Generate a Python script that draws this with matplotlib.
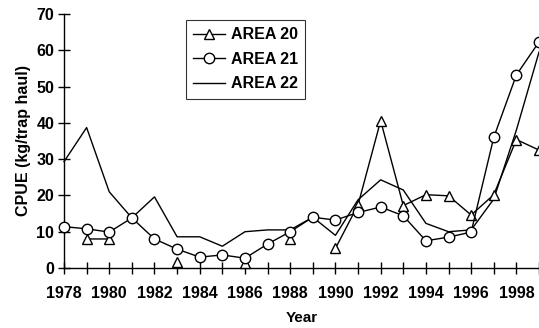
import numpy as np
import matplotlib
matplotlib.use("Agg")
import matplotlib.pyplot as plt

years = list(range(1978, 2000))
nan = np.nan
area20 = [nan, 8.0, 8.0, nan, nan, 1.6, nan, nan, 1.5, nan, 8.0, nan,
          5.4, 17.4, 40.6, 17.2, 20.2, 19.9, 14.6, 20.2, 35.4, 32.5]
area21 = [11.4, 10.8, 9.9, 13.8, 8.0, 5.2, 3.0, 3.6, 2.7, 6.6, 10.0, 14.0,
          13.2, 15.3, 16.8, 14.4, 7.5, 8.5, 9.9, 36.0, 53.2, 62.3]
area22 = [29.3, 38.7, 21.0, 13.8, 19.6, 8.6, 8.6, 6.0, 10.0, 10.5, 10.5, 14.0,
          9.0, 18.8, 24.3, 21.5, 12.3, 10.0, 10.5, 19.0, 38.0, 59.5]
labels = ["AREA 20", "AREA 21", "AREA 22"]

plt.rcParams['font.family'] = ['Liberation Sans', 'DejaVu Sans']
fig = plt.figure(figsize=(5.39, 3.28), dpi=100)
ax = fig.add_axes([64/539, 60/328, 1 - 64/539, 254/328])

ax.plot(years, area22, color='black', lw=1.0, label=labels[2], clip_on=False, zorder=2)
ax.plot(years, area20, color='black', lw=1.0, marker='^', ms=7,
        mfc='white', mec='black', mew=1.0, label=labels[0], clip_on=False, zorder=3)
ax.plot(years, area21, color='black', lw=1.0, marker='o', ms=7.5,
        mfc='white', mec='black', mew=1.0, label=labels[1], clip_on=False, zorder=4)

ax.set_xlim(1978, 1999)
ax.set_ylim(0, 70)
ax.set_yticks(range(0, 71, 10))
ax.set_xticks(years)
ax.set_xticklabels([str(y) if (y - 1978) % 2 == 0 else "" for y in years])
for s in ['top', 'right']:
    ax.spines[s].set_visible(False)
for s in ['left', 'bottom']:
    ax.spines[s].set_linewidth(1.0)
ax.tick_params(direction='inout', length=8, width=1.0, labelsize=11.5, pad=3)
for t in ax.get_xticklabels() + ax.get_yticklabels():
    t.set_fontweight('bold')
ax.tick_params(axis='x', pad=9)

ax.set_xlabel("Year", fontsize=11, fontweight='bold', labelpad=7)
ax.set_ylabel("CPUE (kg/trap haul)", fontsize=11.5, fontweight='bold', labelpad=4)

h, l = ax.get_legend_handles_labels()
order = [1, 2, 0]
leg = ax.legend([h[i] for i in order], [l[i] for i in order],
                loc='upper left', bbox_to_anchor=((186 - 64)/475, 1.0 - 6/254),
                bbox_transform=ax.transAxes, frameon=True, fancybox=False,
                edgecolor='black', fontsize=11.5, handlelength=2.0, borderpad=0.45,
                labelspacing=0.6, handletextpad=0.35, borderaxespad=0)
leg.get_frame().set_linewidth(0.8)
for t in leg.get_texts():
    t.set_fontweight('bold')
ax.patch.set_alpha(0)
fig.savefig("out.png", dpi=100)
